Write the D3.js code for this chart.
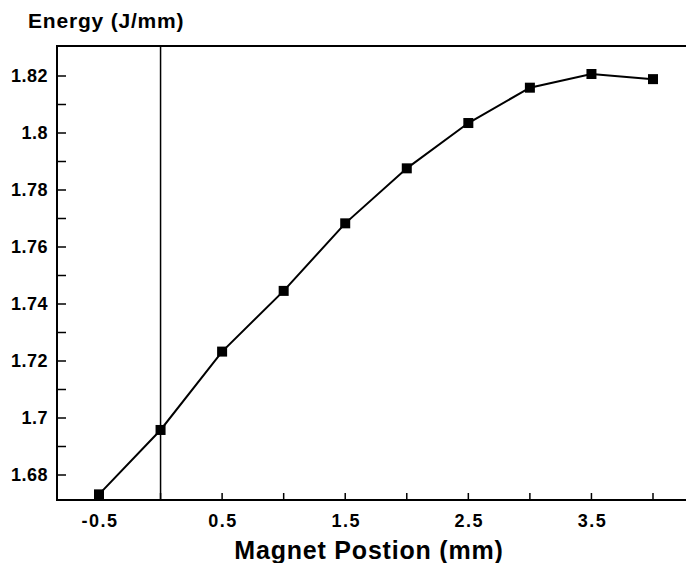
<!DOCTYPE html>
<html>
<head>
<meta charset="utf-8">
<script src="https://cdn.jsdelivr.net/npm/d3@7"></script>
<style>
  body { margin: 0; background: #fff; }
  svg { display: block; }
  text { font-family: "Liberation Sans", Arial, sans-serif; font-weight: bold; fill: #000; }
</style>
</head>
<body>
<div id="chart"></div>
<script>
// magnet position (mm) and energy (J/mm)
var positions = [-0.5, 0, 0.5, 1, 1.5, 2, 2.5, 3, 3.5, 4];
var energies = [1.6732, 1.6958, 1.7233, 1.7446, 1.7683, 1.7876, 1.8035, 1.8159, 1.8207, 1.8189];
var xTicks = [-0.5, 0, 0.5, 1, 1.5, 2, 2.5, 3, 3.5, 4];
var xLabels = [-0.5, 0.5, 1.5, 2.5, 3.5];
var yMajor = [1.68, 1.7, 1.72, 1.74, 1.76, 1.78, 1.8, 1.82];
var yMinor = [1.69, 1.71, 1.73, 1.75, 1.77, 1.79, 1.81];

var width = 686, height = 563;
var plotLeft = 57, plotTop = 46, plotBottom = 500, plotRight = 686;

var svg = d3.select("#chart").append("svg")
    .attr("width", width)
    .attr("height", height);

var x = d3.scaleLinear().domain([-0.5, 4]).range([99, 653]);
var y = d3.scaleLinear().domain([1.68, 1.82]).range([475, 76]);

// frame: left, top, bottom
svg.append("path")
    .attr("d", "M" + plotRight + "," + plotTop + "H" + plotLeft + "V" + plotBottom + "H" + plotRight)
    .attr("fill", "none")
    .attr("stroke", "#000")
    .attr("stroke-width", 2);

// vertical reference line at 0
svg.append("line")
    .attr("x1", x(0)).attr("x2", x(0))
    .attr("y1", plotTop).attr("y2", plotBottom)
    .attr("stroke", "#000")
    .attr("stroke-width", 1.5);

// y axis ticks (inward)
var yAxis = svg.append("g").attr("transform", "translate(" + plotLeft + ",0)");
yAxis.selectAll(".major").data(yMajor.concat(yMinor)).enter().append("line")
    .attr("x1", 0).attr("x2", 9)
    .attr("y1", function(d) { return y(d); })
    .attr("y2", function(d) { return y(d); })
    .attr("stroke", "#000").attr("stroke-width", 1.5);
yAxis.selectAll("text").data(yMajor).enter().append("text")
    .attr("x", -9)
    .attr("y", function(d) { return y(d); })
    .attr("dy", "0.36em")
    .attr("text-anchor", "end")
    .style("font-size", "18px")
    .style("letter-spacing", "0.5px")
    .text(function(d) { return String(+d.toFixed(2)); });

// x axis ticks (inward)
var xAxis = svg.append("g").attr("transform", "translate(0," + plotBottom + ")");
xAxis.selectAll("line").data(xTicks).enter().append("line")
    .attr("x1", function(d) { return x(d); })
    .attr("x2", function(d) { return x(d); })
    .attr("y1", 0).attr("y2", -7)
    .attr("stroke", "#000").attr("stroke-width", 1.5);
xAxis.selectAll("text").data(xLabels).enter().append("text")
    .attr("x", function(d) { return x(d) + 1; })
    .attr("y", 27)
    .attr("text-anchor", "middle")
    .style("font-size", "18px")
    .style("letter-spacing", "1.5px")
    .text(function(d) { return d; });

// titles
svg.append("text")
    .attr("x", 28).attr("y", 28)
    .style("font-size", "21px")
    .style("letter-spacing", "0.8px")
    .text("Energy (J/mm)");
svg.append("text")
    .attr("x", 369).attr("y", 559)
    .attr("text-anchor", "middle")
    .style("font-size", "25px")
    .style("letter-spacing", "0.8px")
    .text("Magnet Postion (mm)");

// data line and markers
var data = positions.map(function(p, i) { return { x: p, y: energies[i] }; });
var line = d3.line()
    .x(function(d) { return x(d.x); })
    .y(function(d) { return y(d.y); });

svg.append("path")
    .datum(data)
    .attr("d", line)
    .attr("fill", "none")
    .attr("stroke", "#000")
    .attr("stroke-width", 2);

svg.selectAll(".pt").data(data).enter().append("rect")
    .attr("class", "pt")
    .attr("x", function(d) { return x(d.x) - 5; })
    .attr("y", function(d) { return y(d.y) - 5; })
    .attr("width", 10)
    .attr("height", 10)
    .attr("fill", "#000");
</script>
</body>
</html>
